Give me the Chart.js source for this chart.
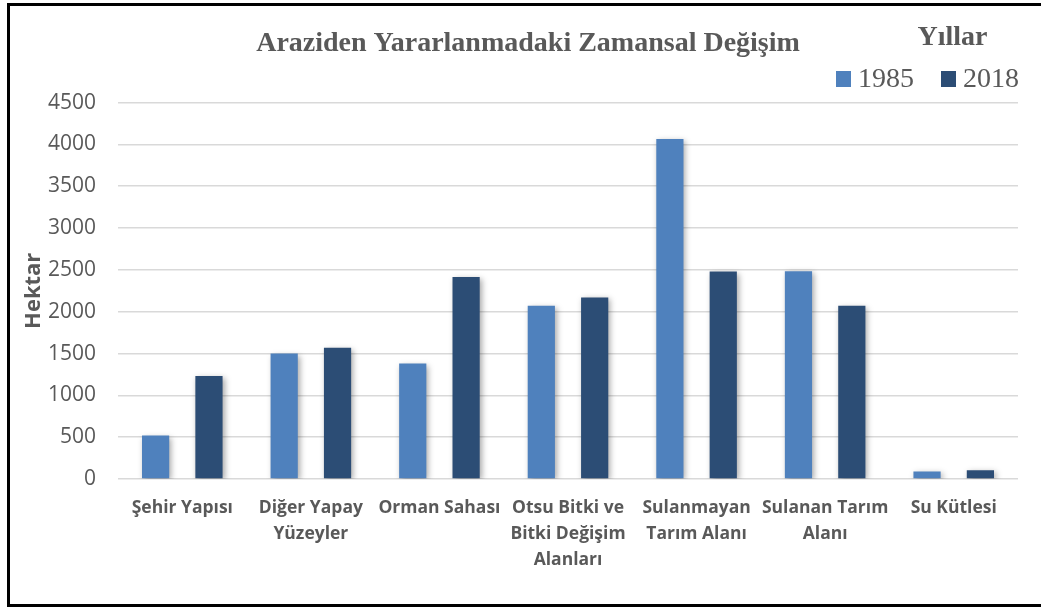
<!DOCTYPE html>
<html>
<head>
<meta charset="utf-8">
<script src="https://cdn.jsdelivr.net/npm/chart.js@4"></script>
<style>
  html, body { margin: 0; padding: 0; background: #fff; overflow: hidden; }
  .frame {
    position: absolute;
    left: 7px;
    top: 3px;
    width: 1040px;
    height: 598px;
    border: 3px solid #000;
  }
  .legend {
    position: absolute;
    left: 0;
    top: 0;
    font-family: "Liberation Serif", serif;
    color: #595959;
  }
  .legend .legend-title {
    position: absolute;
    left: 900px;
    top: 20px;
    width: 105px;
    text-align: center;
    font-size: 28px;
    line-height: 32px;
    font-weight: bold;
  }
  .legend ul {
    position: absolute;
    left: 836px;
    top: 62px;
    margin: 0;
    padding: 0;
    list-style: none;
    display: flex;
    white-space: nowrap;
  }
  .legend li {
    display: flex;
    align-items: center;
    font-size: 28px;
    line-height: 32px;
    margin-right: 27px;
  }
  .legend .box {
    width: 15px;
    height: 16px;
    margin-right: 7px;
    position: relative;
    top: 1px;
  }
</style>
</head>
<body>
<div class="frame"><canvas class="my-chart"></canvas></div>
<div class="legend">
  <div class="legend-title">Yıllar</div>
  <ul></ul>
</div>
<script>
const categories = [
  "Şehir Yapısı",
  ["Diğer Yapay", "Yüzeyler"],
  "Orman Sahası",
  ["Otsu Bitki ve", "Bitki Değişim", "Alanları"],
  ["Sulanmayan", "Tarım Alanı"],
  ["Sulanan Tarım", "Alanı"],
  "Su Kütlesi",
];
const years = ["1985", "2018"];
const colors = ["#4F81BD", "#2C4D75"];
const values1985 = [520, 1500, 1380, 2070, 4065, 2485, 90];
const values2018 = [1230, 1570, 2415, 2170, 2480, 2070, 105];
const yTicks = [0, 500, 1000, 1500, 2000, 2500, 3000, 3500, 4000, 4500];

const grey = "#595959";

// soft shadow under the bars, like the office chart
const shadowPlugin = {
  id: "barShadow",
  beforeDatasetsDraw(chart) {
    const ctx = chart.ctx;
    ctx.save();
    ctx.shadowColor = "rgba(0,0,0,0.35)";
    ctx.shadowBlur = 6;
    ctx.shadowOffsetX = 2;
    ctx.shadowOffsetY = 2;
  },
  afterDatasetsDraw(chart) {
    chart.ctx.restore();
  },
};

const myChart = document.querySelector(".my-chart");
const ul = document.querySelector(".legend ul");

new Chart(myChart, {
  type: "bar",
  data: {
    labels: categories,
    datasets: [
      {
        label: years[0],
        data: values1985,
        backgroundColor: colors[0],
        categoryPercentage: 0.83,
        barPercentage: 0.51,
      },
      {
        label: years[1],
        data: values2018,
        backgroundColor: colors[1],
        categoryPercentage: 0.83,
        barPercentage: 0.51,
      },
    ],
  },
  options: {
    responsive: true,
    maintainAspectRatio: false,
    animation: false,
    layout: {
      // left padding keeps the title centred where the original has it
      padding: { top: 0, right: 32, bottom: 0, left: 28 },
    },
    plugins: {
      tooltip: { enabled: false },
      legend: { display: false },
      title: {
        display: true,
        text: "Araziden Yararlanmadaki Zamansal Değişim",
        color: grey,
        font: { family: "Liberation Serif", size: 28, weight: "bold", lineHeight: 1.2 },
        padding: { top: 21, bottom: 42 },
      },
    },
    scales: {
      x: {
        grid: { display: false, drawTicks: false },
        border: { display: false },
        ticks: {
          color: grey,
          padding: 16,
          maxRotation: 0,
          autoSkip: false,
          font: { family: "Open Sans", size: 17.5, weight: "bold", lineHeight: 1.48 },
        },
        afterFit(scale) {
          scale.height = 125;
        },
      },
      y: {
        min: 0,
        max: 4500,
        afterBuildTicks(scale) {
          scale.ticks = yTicks.map((v) => ({ value: v }));
        },
        grid: { color: "#d9d9d9", lineWidth: 1.5, drawTicks: false },
        border: { display: false },
        ticks: {
          color: grey,
          padding: 22,
          font: { family: "Open Sans", size: 21 },
          callback: (v) => String(v),
        },
        title: {
          display: true,
          text: "Hektar",
          color: grey,
          font: { family: "Open Sans", size: 22, weight: "bold" },
          padding: { top: -17, bottom: 0 },
        },
        afterFit(scale) {
          scale.width = 80;
        },
      },
    },
  },
  plugins: [shadowPlugin],
});

const populateUl = () => {
  years.map((y, i) => {
    let li = document.createElement("li");
    li.innerHTML = `<span class="box" style="background:${colors[i]}"></span>${y}`;
    ul.appendChild(li);
  });
};

populateUl();
</script>
</body>
</html>
